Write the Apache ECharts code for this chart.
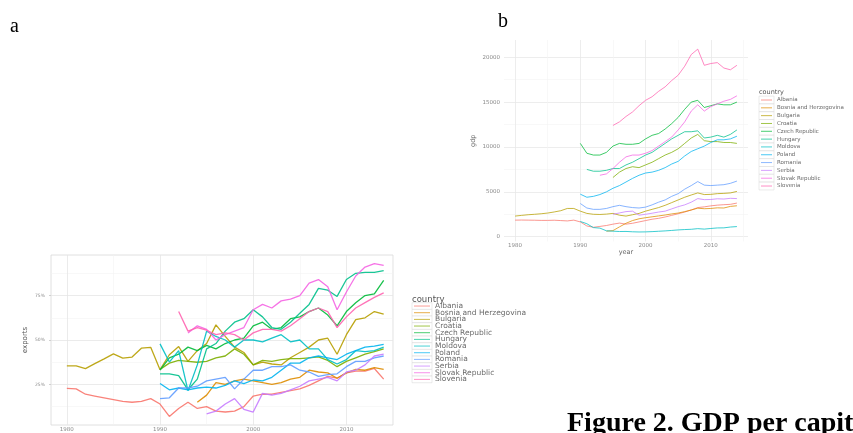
<!DOCTYPE html>
<html>
<head>
<meta charset="utf-8">
<title>Exports and GDP per capita</title>
<script src="https://cdn.jsdelivr.net/npm/echarts@6.0.0/dist/echarts.min.js"></script>
<style>
  html, body { margin: 0; padding: 0; background: #fff; }
  #chart { width: 853px; height: 433px; }
</style>
</head>
<body>
<div id="chart"></div>
<script>
// ---- data ----
const countries = ["Albania", "Bosnia and Herzegovina", "Bulgaria", "Croatia", "Czech Republic", "Hungary",
  "Moldova", "Poland", "Romania", "Serbia", "Slovak Republic", "Slovenia"];

const years = [1980, 1981, 1982, 1983, 1984, 1985, 1986, 1987, 1988, 1989,
  1990, 1991, 1992, 1993, 1994, 1995, 1996, 1997, 1998, 1999,
  2000, 2001, 2002, 2003, 2004, 2005, 2006, 2007, 2008, 2009,
  2010, 2011, 2012, 2013, 2014];

const yearLabels = [1980, 1990, 2000, 2010];
const yearMinor = [1985, 1995, 2005, 2015];
const exportLabels = [25, 50, 75];
const exportMinor = [12.5, 37.5, 62.5, 87.5];
const gdpLabels = [0, 5000, 10000, 15000, 20000];
const gdpMinor = [2500, 7500, 12500, 17500];

// panel a: exports (% of GDP)
const expAlbania = [22.8, 22.5, 19.5, 18.5, 17.5, 16.5, 15.5, 15, 15.5, 17,
  14, 7, 11.5, 15, 11.5, 12.5, 10, 9.5, 10, 12.5,
  18.5, 19.5, 19.5, 20.5, 21.5, 22.5, 24.5, 27, 29.5, 28.5,
  31.5, 32.5, 32.5, 34, 28];
const expBosnia = [null, null, null, null, null, null, null, null, null, null,
  null, null, null, null, 15, 19, 26, 25, 27, 28,
  27, 26, 25, 26, 28, 29, 33, 32, 31.5, 28.5,
  31.5, 33.5, 33, 34.5, 33.5];
const expBulgaria = [35.4, 35.4, 33.9, 36.7, 39.4, 42.2, 39.8, 40.4, 45.4, 45.9,
  33.3, 41.7, 46.3, 38, 44, 48, 58.5, 52, 46, 43,
  36, 37.5, 36.5, 36, 40, 43, 46, 50, 51, 42,
  53, 61.5, 62.5, 66, 64.5];
const expCroatia = [null, null, null, null, null, null, null, null, null, null,
  33.5, 37, 38.5, 38, 37.5, 38, 40, 41, 45, 42,
  36, 38.5, 38, 39, 39.5, 39.5, 40, 40.5, 38.5, 35,
  38, 40, 42, 43.5, 45];
const expCzech = [null, null, null, null, null, null, null, null, null, null,
  33, 40, 42, 46, 44, 47, 45, 48, 50, 51,
  58, 60, 56, 57, 62, 63, 66, 68, 64, 58,
  66, 71, 75, 76, 83.5];
const expHungary = [null, null, null, null, null, null, null, null, null, null,
  31, 31, 30, 22, 28, 45, 48, 55, 60, 62,
  67, 63, 57, 56, 60, 65, 70, 79, 78, 74.5,
  84, 87.5, 88, 88, 89];
const expMoldova = [null, null, null, null, null, null, null, null, null, null,
  47.8, 37.6, 44, 21.5, 36, 55, 52, 50, 46, 50,
  50, 49, 51, 53, 49, 50, 45, 45, 39, 36.5,
  39, 44, 43.5, 44, 46];
const expPoland = [null, null, null, null, null, null, null, null, null, null,
  25.5, 22, 23, 22, 23, 23.5, 23, 24.5, 27, 25.5,
  27.5, 27, 29, 33, 37, 37, 40, 41, 40, 39,
  42, 44, 46, 46.5, 47.5];
const expRomania = [null, null, null, null, null, null, null, null, null, null,
  17, 17.5, 23, 23, 24, 27, 28, 29, 22.5, 28,
  33, 33, 35, 35, 36, 33, 32, 29.5, 30.5, 31,
  35, 38, 38, 40, 41];
const expSerbia = [null, null, null, null, null, null, null, null, null, null,
  null, null, null, null, null, 8.5, 10, 14, 17, 11,
  9.5, 20, 19, 20, 22, 24, 27, 28, 29, 27,
  32, 33, 36, 41, 42];
const expSlovak = [null, null, null, null, null, null, null, null, null, null,
  null, null, null, 54, 58, 56, 50, 53, 55, 57,
  67, 70, 68, 72, 73, 75, 82, 84, 80, 67,
  77, 86, 91, 93, 92];
const expSlovenia = [null, null, null, null, null, null, null, null, null, null,
  null, null, 66, 55, 57, 55.5, 53, 54, 53, 50,
  54, 56, 56, 55, 58, 62, 66, 68, 66, 57,
  63, 68, 71, 74, 76.5];

// panel b: GDP per capita
const gdpAlbania = [1850, 1860, 1850, 1840, 1820, 1820, 1840, 1800, 1760, 1850,
  1650, 1200, 1050, 1150, 1250, 1400, 1520, 1400, 1500, 1650,
  1800, 1950, 2050, 2200, 2380, 2560, 2750, 2980, 3250, 3330,
  3440, 3520, 3570, 3610, 3750];
const gdpBosnia = [null, null, null, null, null, null, null, null, null, null,
  null, null, null, null, 620, 680, 1100, 1500, 1800, 2000,
  2120, 2220, 2320, 2420, 2540, 2640, 2800, 2980, 3180, 3120,
  3150, 3220, 3200, 3380, 3450];
const gdpBulgaria = [2300, 2380, 2450, 2500, 2560, 2640, 2760, 2900, 3150, 3150,
  2850, 2600, 2500, 2480, 2520, 2600, 2400, 2300, 2450, 2600,
  2850, 3050, 3250, 3500, 3800, 4100, 4400, 4650, 4880, 4700,
  4720, 4800, 4830, 4880, 5050];
const gdpCroatia = [null, null, null, null, null, null, null, null, null, null,
  null, null, null, null, null, 6600, 7200, 7600, 7800, 7700,
  8000, 8300, 8700, 9100, 9400, 9800, 10400, 11000, 11400, 10700,
  10600, 10600, 10500, 10500, 10400];
const gdpCzech = [null, null, null, null, null, null, null, null, null, null,
  10400, 9300, 9100, 9100, 9400, 10100, 10400, 10300, 10300, 10400,
  10900, 11300, 11500, 12000, 12600, 13300, 14200, 15000, 15200, 14400,
  14600, 14800, 14700, 14700, 15000];
const gdpHungary = [null, null, null, null, null, null, null, null, null, null,
  null, 7500, 7300, 7300, 7400, 7600, 7600, 8000, 8300, 8700,
  9100, 9400, 9900, 10400, 10900, 11300, 11700, 11700, 11800, 11000,
  11100, 11300, 11100, 11400, 11900];
const gdpMoldova = [null, null, null, null, null, null, null, null, null, null,
  1700, 1450, 1020, 960, 660, 620, 580, 590, 550, 530,
  540, 570, 610, 650, 700, 760, 800, 830, 900, 850,
  920, 980, 990, 1080, 1130];
const gdpPoland = [null, null, null, null, null, null, null, null, null, null,
  4740, 4400, 4500, 4700, 5000, 5400, 5700, 6100, 6500, 6850,
  7100, 7200, 7400, 7700, 8100, 8400, 9000, 9500, 9800, 10100,
  10500, 10800, 10800, 10900, 11200];
const gdpRomania = [null, null, null, null, null, null, null, null, null, null,
  3700, 3200, 3050, 3050, 3150, 3350, 3500, 3350, 3250, 3200,
  3300, 3550, 3850, 4100, 4500, 4800, 5300, 5700, 6150, 5750,
  5700, 5750, 5800, 5950, 6200];
const gdpSerbia = [null, null, null, null, null, null, null, null, null, null,
  null, null, null, null, null, 2500, 2650, 2800, 2850, 2400,
  2500, 2620, 2750, 2850, 3100, 3350, 3550, 3850, 4250, 4130,
  4150, 4230, 4200, 4280, 4250];
const gdpSlovak = [null, null, null, null, null, null, null, null, null, null,
  null, null, null, 6850, 7000, 7600, 8300, 8900, 9100, 9100,
  9300, 9600, 10100, 10600, 11100, 11900, 12800, 14000, 14700, 14000,
  14500, 14800, 15100, 15300, 15700];
const gdpSlovenia = [null, null, null, null, null, null, null, null, null, null,
  null, null, null, null, null, 12400, 12800, 13400, 13900, 14600,
  15200, 15600, 16200, 16700, 17400, 18000, 19000, 20300, 20900, 19100,
  19300, 19400, 18800, 18600, 19100];

const exportsByCountry = [expAlbania, expBosnia, expBulgaria, expCroatia, expCzech, expHungary,
  expMoldova, expPoland, expRomania, expSerbia, expSlovak, expSlovenia];
const gdpByCountry = [gdpAlbania, gdpBosnia, gdpBulgaria, gdpCroatia, gdpCzech, gdpHungary,
  gdpMoldova, gdpPoland, gdpRomania, gdpSerbia, gdpSlovak, gdpSlovenia];

// ggplot default hue palette for 12 groups
const palette = ["#F8766D", "#DE8C00", "#B79F00", "#7CAE00", "#00BA38", "#00C08B",
  "#00BFC4", "#00B4F0", "#619CFF", "#C77CFF", "#F564E3", "#FF64B0"];

// ---- chart ----
const FONT = "DejaVu Sans";
const tickText = "#8a8a8a";
const plain = v => String(v);
const chart = echarts.init(document.getElementById("chart"));

function pairs(vals) {
  return years.map((y, j) => [y, vals[j]]);
}

function minorAxis(gridIndex, min, max, values) {
  return {
    gridIndex: gridIndex, type: "value", min: min, max: max,
    axisLine: { show: false },
    axisTick: { show: false, customValues: values },
    axisLabel: { show: false },
    splitLine: { show: true, lineStyle: { color: "#f3f3f3", width: 0.6 } },
  };
}

function legend(x, top, titleY, rowH, keyW, fontSize) {
  const els = [{
    type: "text", x: x, y: titleY,
    style: { text: "country", fill: "#555", font: fontSize + 1 + "px '" + FONT + "'", verticalAlign: "middle" },
  }];
  countries.forEach((name, i) => {
    const y0 = top + i * rowH;
    els.push({
      type: "rect", shape: { x: x, y: y0, width: keyW, height: rowH },
      style: { fill: "#fff", stroke: "#d6d6d6", lineWidth: 0.5 },
    });
    els.push({
      type: "line", shape: { x1: x + 2, y1: y0 + rowH / 2, x2: x + keyW - 2, y2: y0 + rowH / 2 },
      style: { stroke: palette[i], lineWidth: 0.9, opacity: 0.8 },
    });
    els.push({
      type: "text", x: x + keyW + 3, y: y0 + rowH / 2,
      style: { text: name, fill: "#6a6a6a", font: fontSize + "px '" + FONT + "'", verticalAlign: "middle" },
    });
  });
  return els;
}

const series = [];
countries.forEach((name, i) => {
  series.push({
    name: name, type: "line", xAxisIndex: 0, yAxisIndex: 0,
    data: pairs(exportsByCountry[i]), symbol: "none",
    lineStyle: { color: palette[i], width: 1.3, opacity: 0.9 },
  });
  series.push({
    name: name, type: "line", xAxisIndex: 2, yAxisIndex: 2,
    data: pairs(gdpByCountry[i]), symbol: "none",
    lineStyle: { color: palette[i], width: 0.9, opacity: 0.85 },
  });
});

const option = {
  animation: false,
  textStyle: { fontFamily: FONT },
  grid: [
    { left: 51, right: 460, top: 255, bottom: 6, show: true, borderColor: "#d8d8d8", borderWidth: 0.8 },
    { left: 504, right: 105, top: 40, bottom: 191.6 },
  ],
  xAxis: [
    {
      gridIndex: 0, type: "value", min: 1978.3, max: 2015,
      axisLine: { show: false },
      axisTick: { show: false, customValues: yearLabels },
      axisLabel: { customValues: yearLabels, formatter: plain, fontSize: 5.5, color: tickText, margin: 2 },
      splitLine: { show: true, lineStyle: { color: "#e6e6e6", width: 0.8 } },
    },
    minorAxis(0, 1978.3, 2015, yearMinor),
    {
      gridIndex: 1, type: "value", min: 1978.3, max: 2015.7,
      name: "year", nameLocation: "middle", nameGap: 5,
      nameTextStyle: { fontSize: 6.5, color: "#666" },
      axisLine: { show: false },
      axisTick: { show: false, customValues: yearLabels },
      axisLabel: { customValues: yearLabels, formatter: plain, fontSize: 5.5, color: tickText, margin: 1 },
      splitLine: { show: true, lineStyle: { color: "#e9e9e9", width: 0.8 } },
    },
    minorAxis(1, 1978.3, 2015.7, yearMinor),
  ],
  yAxis: [
    {
      gridIndex: 0, type: "value", min: 2.2, max: 97.8,
      name: "exports", nameLocation: "middle", nameGap: 22,
      nameTextStyle: { fontSize: 7, color: "#555" },
      axisLine: { show: false },
      axisTick: { show: true, length: 2, customValues: exportLabels, lineStyle: { color: "#d0d0d0" } },
      axisLabel: { customValues: exportLabels, fontSize: 4.5, color: tickText, margin: 6, formatter: v => v + "%" },
      splitLine: { show: true, lineStyle: { color: "#e6e6e6", width: 0.8 } },
    },
    minorAxis(0, 2.2, 97.8, exportMinor),
    {
      gridIndex: 1, type: "value", min: -520, max: 21920,
      name: "gdp", nameLocation: "middle", nameGap: 27,
      nameTextStyle: { fontSize: 6.5, color: "#666" },
      axisLine: { show: false },
      axisTick: { show: false, customValues: gdpLabels },
      axisLabel: { customValues: gdpLabels, formatter: plain, fontSize: 5.5, color: tickText, margin: 4 },
      splitLine: { show: true, lineStyle: { color: "#e9e9e9", width: 0.8 } },
    },
    minorAxis(1, -520, 21920, gdpMinor),
  ],
  series: series,
  graphic: [
    { type: "text", x: 10, y: 27, style: { text: "a", fill: "#000", font: "20px 'Liberation Serif'", verticalAlign: "middle" } },
    { type: "text", x: 498, y: 22, style: { text: "b", fill: "#000", font: "20px 'Liberation Serif'", verticalAlign: "middle" } },
    { type: "text", x: 567, y: 424, style: { text: "Figure 2. GDP per capita", fill: "#000", font: "bold 28px 'Liberation Serif'", verticalAlign: "middle" } },
    ...legend(412, 302.7, 300, 6.67, 20, 7.5),
    ...legend(759, 96.1, 92, 7.82, 15, 5.5),
  ],
};

chart.setOption(option);
</script>
</body>
</html>
